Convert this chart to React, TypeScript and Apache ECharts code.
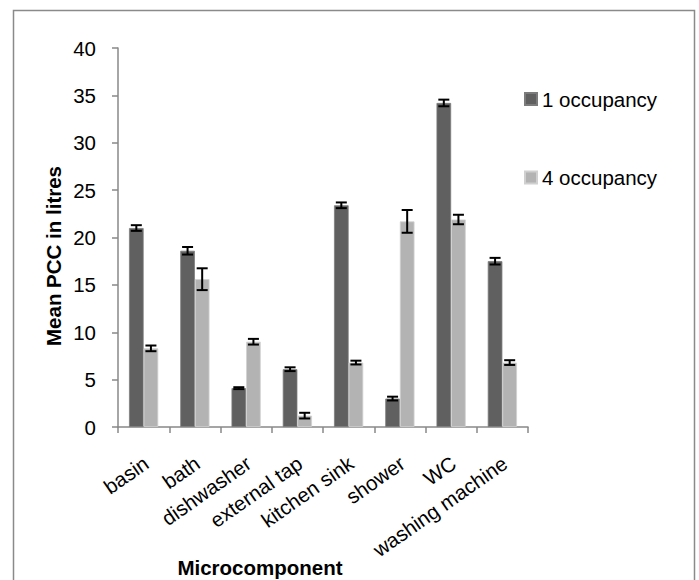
import React, { useEffect, useRef } from "react";
import * as echarts from "echarts";

const categories = ["basin", "bath", "dishwasher", "external tap", "kitchen sink", "shower", "WC", "washing machine"];
const occ1Values = [21.0, 18.6, 4.1, 6.1, 23.4, 3.0, 34.2, 17.5];
const occ1Errors = [0.3, 0.4, 0.1, 0.2, 0.3, 0.2, 0.35, 0.35];
const occ4Values = [8.3, 15.6, 9.0, 1.2, 6.8, 21.7, 21.9, 6.8];
const occ4Errors = [0.3, 1.15, 0.3, 0.3, 0.2, 1.2, 0.5, 0.25];
const seriesNames = ["1 occupancy", "4 occupancy"];
const yTicks = { min: 0, max: 40, interval: 5 };

const FONT = "'Liberation Sans', Arial, sans-serif";
const FS = 20.5;

function errorSeries(values: number[], errors: number[], side: number) {
  return {
    type: "custom",
    silent: true,
    z: 5,
    data: values.map((v, i) => [i, v, errors[i]]),
    encode: { x: 0, y: 1 },
    renderItem: (params: any, api: any) => {
      const x = api.value(0);
      const v = api.value(1);
      const e = api.value(2);
      const hi = api.coord([x, v + e]);
      const lo = api.coord([x, v - e]);
      const band = api.size([1, 0])[0];
      const barW = band * 0.285;
      const cx = hi[0] + side * barW / 2;
      const cap = 5.5;
      const style = { stroke: "#000", lineWidth: 2 };
      return {
        type: "group",
        children: [
          { type: "line", shape: { x1: cx, y1: hi[1], x2: cx, y2: lo[1] }, style },
          { type: "line", shape: { x1: cx - cap, y1: hi[1], x2: cx + cap, y2: hi[1] }, style },
          { type: "line", shape: { x1: cx - cap, y1: lo[1], x2: cx + cap, y2: lo[1] }, style },
        ],
      };
    },
  };
}

export default function App() {
  const ref = useRef<HTMLDivElement>(null);
  useEffect(() => {
    if (!ref.current) return;
    const chart = echarts.init(ref.current, undefined, { renderer: "svg" });
    chart.setOption({
      animation: false,
      backgroundColor: "#fff",
      textStyle: { fontFamily: FONT },
      grid: { left: 118, right: 171, top: 48, bottom: 153, containLabel: false },
      legend: {
        orient: "vertical",
        left: 519,
        top: 83.5,
        itemGap: 57.5,
        itemWidth: 12,
        itemHeight: 12,
        icon: "rect",
        data: seriesNames,
        textStyle: { fontSize: FS, color: "#000", fontFamily: FONT },
      },
      xAxis: {
        type: "category",
        data: categories,
        axisLine: { show: true, lineStyle: { color: "#888", width: 1.5 } },
        axisTick: { show: true, length: 6, lineStyle: { color: "#888", width: 1.5 } },
        axisLabel: {
          rotate: 35,
          interval: 0,
          margin: 35.5,
          padding: [0, -3, 0, 0],
          fontSize: FS,
          color: "#000",
          fontFamily: FONT,
        },
      },
      yAxis: {
        type: "value",
        min: yTicks.min,
        max: yTicks.max,
        interval: yTicks.interval,
        splitLine: { show: false },
        axisLine: { show: true, lineStyle: { color: "#888", width: 1.5 } },
        axisTick: { show: true, length: 6, lineStyle: { color: "#888", width: 1.5 } },
        axisLabel: { fontSize: FS, color: "#000", margin: 22, fontFamily: FONT },
      },
      graphic: [
        {
          type: "rect",
          shape: { x: 13.5, y: 10.5, width: 681, height: 620 },
          style: { fill: "none", stroke: "#8a8a8a", lineWidth: 1.5 },
          silent: true,
        },
        {
          type: "text",
          x: 53,
          y: 256,
          rotation: Math.PI / 2,
          style: {
            text: "Mean PCC in litres",
            fontSize: FS,
            fontWeight: "bold",
            fontFamily: FONT,
            fill: "#000",
            align: "center",
            verticalAlign: "middle",
          },
        },
        {
          type: "text",
          x: 260,
          y: 567,
          style: {
            text: "Microcomponent",
            fontSize: FS,
            fontWeight: "bold",
            fontFamily: FONT,
            fill: "#000",
            align: "center",
            verticalAlign: "middle",
          },
        },
      ],
      series: [
        {
          name: seriesNames[0],
          type: "bar",
          data: occ1Values,
          barGap: "0%",
          barCategoryGap: "43%",
          itemStyle: { color: "#606060", borderColor: "#7c7c7c", borderWidth: 0.8 },
        },
        {
          name: seriesNames[1],
          type: "bar",
          data: occ4Values,
          barGap: "0%",
          barCategoryGap: "43%",
          itemStyle: { color: "#b3b3b3", borderColor: "#d0d0d0", borderWidth: 0.8 },
        },
        errorSeries(occ1Values, occ1Errors, -1),
        errorSeries(occ4Values, occ4Errors, 1),
      ],
    });
    return () => chart.dispose();
  }, []);
  return <div ref={ref} style={{ position: "fixed", left: 0, top: 0, width: 699, height: 580 }} />;
}
